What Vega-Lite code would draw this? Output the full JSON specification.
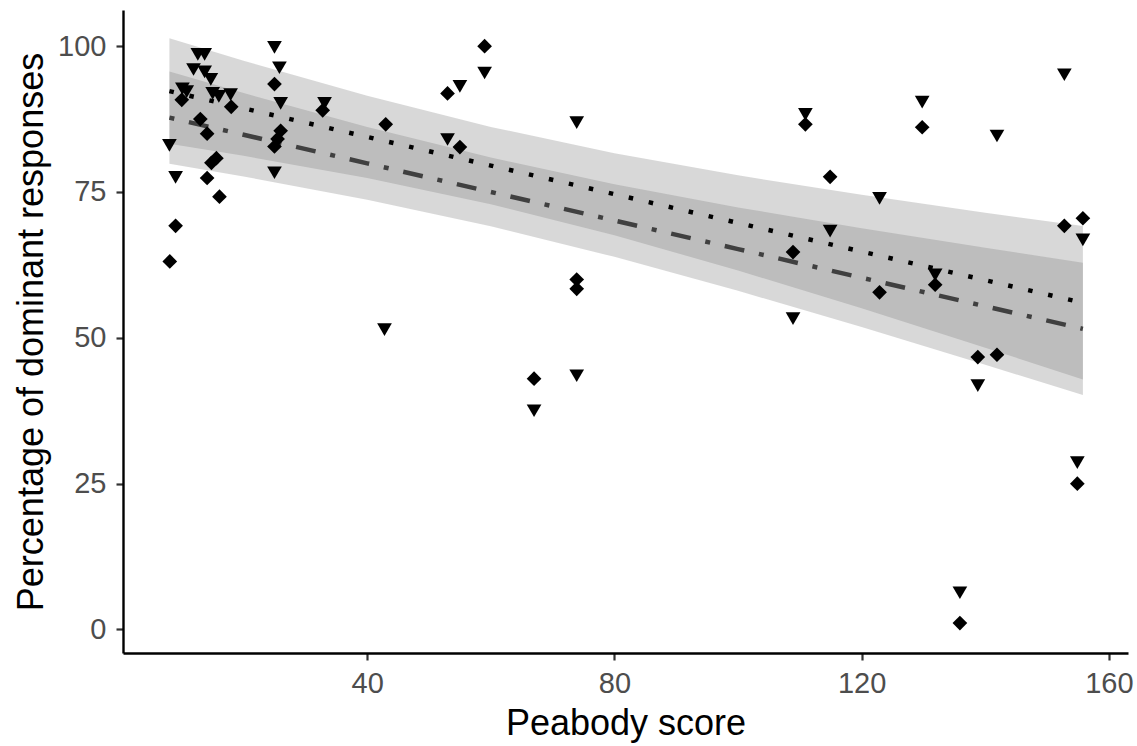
{
  "$schema": "https://vega.github.io/schema/vega-lite/v6.json",
  "width": 1005,
  "height": 643,
  "autosize": {"type": "none"},
  "padding": {"left": 123, "top": 10, "right": 9, "bottom": 93},
  "background": "white",
  "config": {
    "view": {"stroke": null},
    "axis": {
      "grid": false,
      "domainColor": "black",
      "domainWidth": 2.4,
      "tickColor": "#333333",
      "tickWidth": 2.2,
      "tickSize": 7,
      "labelColor": "#4D4D4D",
      "labelFont": "Liberation Sans",
      "labelFontSize": 29,
      "titleFont": "Liberation Sans",
      "titleFontSize": 36,
      "titleFontWeight": "normal",
      "titleColor": "black"
    }
  },
  "datasets": {
    "pts": [
      {"x": 8.0, "y": 83.0, "grp": "T"},
      {"x": 9.0, "y": 77.5, "grp": "T"},
      {"x": 10.1, "y": 92.7, "grp": "T"},
      {"x": 10.8, "y": 92.2, "grp": "T"},
      {"x": 11.9, "y": 96.0, "grp": "T"},
      {"x": 12.6, "y": 98.6, "grp": "T"},
      {"x": 13.7, "y": 98.6, "grp": "T"},
      {"x": 13.7, "y": 95.6, "grp": "T"},
      {"x": 14.7, "y": 94.3, "grp": "T"},
      {"x": 15.0, "y": 91.9, "grp": "T"},
      {"x": 16.0, "y": 91.4, "grp": "T"},
      {"x": 17.9, "y": 91.7, "grp": "T"},
      {"x": 25.0, "y": 99.8, "grp": "T"},
      {"x": 25.8, "y": 96.3, "grp": "T"},
      {"x": 26.0, "y": 90.2, "grp": "T"},
      {"x": 25.0, "y": 78.3, "grp": "T"},
      {"x": 33.1, "y": 90.2, "grp": "T"},
      {"x": 42.8, "y": 51.4, "grp": "T"},
      {"x": 53.0, "y": 84.0, "grp": "T"},
      {"x": 55.0, "y": 93.1, "grp": "T"},
      {"x": 59.0, "y": 95.4, "grp": "T"},
      {"x": 67.0, "y": 37.5, "grp": "T"},
      {"x": 73.9, "y": 86.9, "grp": "T"},
      {"x": 73.9, "y": 43.5, "grp": "T"},
      {"x": 108.9, "y": 53.3, "grp": "T"},
      {"x": 110.9, "y": 88.3, "grp": "T"},
      {"x": 114.9, "y": 68.3, "grp": "T"},
      {"x": 122.9, "y": 73.9, "grp": "T"},
      {"x": 129.8, "y": 90.4, "grp": "T"},
      {"x": 131.9, "y": 60.8, "grp": "T"},
      {"x": 138.8, "y": 41.8, "grp": "T"},
      {"x": 135.9, "y": 6.3, "grp": "T"},
      {"x": 141.9, "y": 84.6, "grp": "T"},
      {"x": 152.8, "y": 95.1, "grp": "T"},
      {"x": 154.9, "y": 28.6, "grp": "T"},
      {"x": 155.8, "y": 66.8, "grp": "T"},
      {"x": 8.06, "y": 63.1, "grp": "D"},
      {"x": 9.0, "y": 69.2, "grp": "D"},
      {"x": 10.0, "y": 90.8, "grp": "D"},
      {"x": 13.0, "y": 87.5, "grp": "D"},
      {"x": 14.1, "y": 85.0, "grp": "D"},
      {"x": 15.6, "y": 80.8, "grp": "D"},
      {"x": 14.8, "y": 80.0, "grp": "D"},
      {"x": 14.1, "y": 77.4, "grp": "D"},
      {"x": 16.1, "y": 74.2, "grp": "D"},
      {"x": 18.0, "y": 89.6, "grp": "D"},
      {"x": 25.0, "y": 93.5, "grp": "D"},
      {"x": 25.0, "y": 82.8, "grp": "D"},
      {"x": 25.5, "y": 84.1, "grp": "D"},
      {"x": 26.0, "y": 85.5, "grp": "D"},
      {"x": 32.8, "y": 89.0, "grp": "D"},
      {"x": 43.0, "y": 86.6, "grp": "D"},
      {"x": 53.0, "y": 91.9, "grp": "D"},
      {"x": 55.0, "y": 82.7, "grp": "D"},
      {"x": 59.0, "y": 100.0, "grp": "D"},
      {"x": 67.0, "y": 43.0, "grp": "D"},
      {"x": 73.9, "y": 60.0, "grp": "D"},
      {"x": 73.9, "y": 58.4, "grp": "D"},
      {"x": 108.9, "y": 64.7, "grp": "D"},
      {"x": 110.9, "y": 86.6, "grp": "D"},
      {"x": 114.9, "y": 77.6, "grp": "D"},
      {"x": 122.9, "y": 57.8, "grp": "D"},
      {"x": 129.8, "y": 86.1, "grp": "D"},
      {"x": 131.9, "y": 59.1, "grp": "D"},
      {"x": 138.8, "y": 46.7, "grp": "D"},
      {"x": 141.9, "y": 47.1, "grp": "D"},
      {"x": 135.9, "y": 1.1, "grp": "D"},
      {"x": 152.8, "y": 69.2, "grp": "D"},
      {"x": 154.9, "y": 25.0, "grp": "D"},
      {"x": 155.8, "y": 70.5, "grp": "D"}
    ],
    "fit": [
      {"x": 8, "grp": "T", "y": 92.3, "lo": 83.25, "hi": 101.35},
      {"x": 20, "grp": "T", "y": 89.35, "lo": 81.2, "hi": 97.5},
      {"x": 40, "grp": "T", "y": 84.44, "lo": 77.4, "hi": 91.48},
      {"x": 60, "grp": "T", "y": 79.53, "lo": 72.9, "hi": 86.16},
      {"x": 80, "grp": "T", "y": 74.62, "lo": 67.58, "hi": 81.66},
      {"x": 100, "grp": "T", "y": 69.7, "lo": 61.55, "hi": 77.85},
      {"x": 120, "grp": "T", "y": 64.79, "lo": 55.07, "hi": 74.51},
      {"x": 140, "grp": "T", "y": 59.88, "lo": 48.31, "hi": 71.45},
      {"x": 155.8, "grp": "T", "y": 56.0, "lo": 42.85, "hi": 69.15},
      {"x": 8, "grp": "D", "y": 87.75, "lo": 79.85, "hi": 95.65},
      {"x": 20, "grp": "D", "y": 84.81, "lo": 77.66, "hi": 91.96},
      {"x": 40, "grp": "D", "y": 79.91, "lo": 73.68, "hi": 86.14},
      {"x": 60, "grp": "D", "y": 75.01, "lo": 69.12, "hi": 80.9},
      {"x": 80, "grp": "D", "y": 70.11, "lo": 63.88, "hi": 76.34},
      {"x": 100, "grp": "D", "y": 65.21, "lo": 58.06, "hi": 72.36},
      {"x": 120, "grp": "D", "y": 60.31, "lo": 51.85, "hi": 68.77},
      {"x": 140, "grp": "D", "y": 55.41, "lo": 45.39, "hi": 65.43},
      {"x": 155.8, "grp": "D", "y": 51.54, "lo": 40.19, "hi": 62.89}
    ]
  },
  "encoding": {
    "x": {
      "field": "x", "type": "quantitative",
      "scale": {"domain": [0.49, 163.1], "nice": false, "zero": false},
      "axis": {"values": [40, 80, 120, 160], "title": "Peabody score", "labelPadding": 9, "titlePadding": 8}
    }
  },
  "layer": [
    {
      "data": {"name": "fit"},
      "mark": {"type": "area", "color": "#7F7F7F", "opacity": 0.3},
      "encoding": {
        "y": {"field": "lo", "type": "quantitative",
          "scale": {"domain": [-4.03, 106.2], "nice": false, "zero": false},
          "axis": {"values": [0, 25, 50, 75, 100], "title": "Percentage of dominant responses", "labelPadding": 10, "titlePadding": 7}},
        "y2": {"field": "hi"},
        "detail": {"field": "grp"}
      }
    },
    {
      "data": {"name": "fit"},
      "mark": {"type": "line", "strokeWidth": 4.5, "strokeCap": "butt"},
      "encoding": {
        "y": {"field": "y", "type": "quantitative"},
        "stroke": {"field": "grp", "type": "nominal", "scale": {"domain": ["T", "D"], "range": ["#000000", "#404040"]}, "legend": null},
        "strokeDash": {"field": "grp", "type": "nominal", "scale": {"domain": ["T", "D"], "range": [[4.5, 16], [5, 15, 20, 15]]}, "legend": null}
      }
    },
    {
      "data": {"name": "pts"},
      "mark": {"type": "point", "filled": true, "opacity": 1, "color": "black", "size": 216},
      "encoding": {
        "y": {"field": "y", "type": "quantitative"},
        "shape": {"field": "grp", "type": "nominal", "scale": {"domain": ["T", "D"], "range": ["triangle-down", "diamond"]}, "legend": null}
      }
    }
  ]
}
